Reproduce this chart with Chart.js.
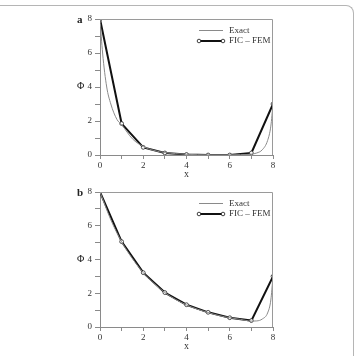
<!DOCTYPE html>
<html>
<head>
<meta charset="utf-8">
<script src="https://cdn.jsdelivr.net/npm/chart.js@4.4.1/dist/chart.umd.min.js"></script>
<style>
  html, body { margin: 0; padding: 0; background: #fff; }
  body { width: 356px; height: 356px; position: relative; overflow: hidden; font-family: "Liberation Serif", "DejaVu Serif", serif; }
  .frame { position: absolute; left: -10px; top: 5px; width: 363px; height: 380px; border-top: 1px solid #b5b5b5; border-right: 1px solid #b5b5b5; border-top-right-radius: 8px; }
  .wrap { position: absolute; left: 0; width: 356px; }
  .wrap canvas { display: block; }
  .lbl { position: absolute; font-family: "Liberation Serif", serif; color: #222; line-height: 1; }
  .panel { font-weight: bold; font-size: 11px; }
  .phi { font-size: 10px; }
</style>
</head>
<body>
<div class="frame"></div>
<div class="wrap" style="top:0;height:182px;"><canvas id="cA" width="356" height="182"></canvas></div>
<div class="wrap" style="top:176px;height:180px;"><canvas id="cB" width="356" height="180"></canvas></div>
<span class="lbl panel" style="left:77px;top:14px;">a</span>
<span class="lbl phi" style="left:77px;top:81px;">Φ</span>
<span class="lbl panel" style="left:77px;top:187px;">b</span>
<span class="lbl phi" style="left:77px;top:254px;">Φ</span>
<script>
// ---- data ----
const nodesX = [0, 1, 2, 3, 4, 5, 6, 7, 8];
const femA = [8, 1.85, 0.45, 0.12, 0.03, 0.0, 0.0, 0.12, 3.0];
const femB = [8, 5.06, 3.22, 2.04, 1.32, 0.87, 0.55, 0.38, 3.0];
const exactAx = [0, 0.12, 0.31, 0.5, 0.78, 1, 1.5, 2, 2.5, 3, 3.5, 4, 5, 6, 6.5, 7, 7.25, 7.5, 7.75, 7.9, 8];
const exactAy = [8, 6.0, 4.0, 3.0, 2.1, 1.78, 0.95, 0.5, 0.27, 0.14, 0.08, 0.04, 0.01, 0.01, 0.02, 0.05, 0.12, 0.3, 0.85, 1.7, 3.0];
const exactBx = [0, 0.5, 1, 1.5, 2, 2.5, 3, 3.5, 4, 4.5, 5, 5.5, 6, 6.5, 7, 7.25, 7.5, 7.75, 7.9, 8];
const exactBy = [8, 6.35, 5.05, 4.05, 3.22, 2.58, 2.04, 1.63, 1.31, 1.06, 0.86, 0.68, 0.55, 0.45, 0.35, 0.36, 0.47, 0.83, 1.6, 3.0];
const xTicks = [0, 2, 4, 6, 8];
const yTicks = [0, 2, 4, 6, 8];
const xTitle = 'x';
const labelExact = 'Exact';
const labelFem = 'FIC \u2013 FEM';

function pts(xs, ys) { return xs.map((x, i) => ({ x: x, y: ys[i] })); }

const frameAndLegend = {
  id: 'frameAndLegend',
  afterDatasetsDraw(chart) {
    const { ctx, chartArea: a } = chart;
    ctx.save();
    ctx.strokeStyle = '#9a9a9a';
    ctx.lineWidth = 1;
    ctx.beginPath();
    ctx.moveTo(a.left, a.top + 0.5);
    ctx.lineTo(a.right - 0.5, a.top + 0.5);
    ctx.lineTo(a.right - 0.5, a.bottom);
    ctx.stroke();
    // legend
    const x0 = 199, x1 = 223;
    const y0 = a.top + 11.5, y1 = a.top + 22;
    ctx.strokeStyle = '#8a8a8a';
    ctx.lineWidth = 1;
    ctx.beginPath(); ctx.moveTo(x0, y0); ctx.lineTo(x1, y0); ctx.stroke();
    ctx.strokeStyle = '#111';
    ctx.lineWidth = 2;
    ctx.beginPath(); ctx.moveTo(x0, y1); ctx.lineTo(x1, y1); ctx.stroke();
    ctx.lineWidth = 0.8;
    ctx.fillStyle = '#fff';
    [x0, x1].forEach(px => { ctx.beginPath(); ctx.arc(px, y1, 1.8, 0, Math.PI * 2); ctx.fill(); ctx.stroke(); });
    ctx.fillStyle = '#333';
    ctx.font = '9px "Liberation Serif", serif';
    ctx.textBaseline = 'middle';
    ctx.textAlign = 'left';
    ctx.fillText(chart.data.datasets[0].label, 229, y0);
    ctx.fillText(chart.data.datasets[1].label, 229, y1);
    // x axis title
    ctx.font = '10px "Liberation Serif", serif';
    ctx.textAlign = 'center';
    ctx.fillText(xTitle, (a.left + a.right) / 2, a.bottom + 19);
    ctx.restore();
  }
};

function makeChart(id, exX, exY, fem, padTop, padBottom) {
  return new Chart(document.getElementById(id), {
    type: 'line',
    data: {
      datasets: [
        { label: labelExact, data: pts(exX, exY), borderColor: '#8a8a8a', borderWidth: 1, pointRadius: 0, cubicInterpolationMode: 'monotone', fill: false },
        { label: labelFem, data: pts(nodesX, fem), borderColor: '#111', borderWidth: 2, pointRadius: 1.9, pointBackgroundColor: '#fff', pointBorderColor: '#222', pointBorderWidth: 0.8, tension: 0, fill: false }
      ]
    },
    options: {
      responsive: false,
      animation: false,
      events: [],
      layout: { padding: { left: 70, right: 83, top: padTop, bottom: padBottom } },
      plugins: { legend: { display: false }, tooltip: { enabled: false } },
      scales: {
        x: {
          type: 'linear', min: 0, max: 8,
          afterFit(s) { s.height = 24; },
          border: { color: '#8a8a8a', width: 1 },
          grid: { drawOnChartArea: false, tickLength: 4, color: '#8a8a8a' },
          ticks: { stepSize: 1, padding: 1, maxRotation: 0, autoSkip: false, color: '#333', font: { family: '"Liberation Serif", serif', size: 9 },
                   callback: v => xTicks.includes(v) ? String(v) : '' },
          title: { display: false }
        },
        y: {
          type: 'linear', min: 0, max: 8,
          afterFit(s) { s.width = 30; },
          border: { color: '#8a8a8a', width: 1 },
          grid: { drawOnChartArea: false, tickLength: 5, color: '#8a8a8a' },
          ticks: { stepSize: 1, padding: 3, autoSkip: false, color: '#333', font: { family: '"Liberation Serif", serif', size: 9 },
                   callback: v => yTicks.includes(v) ? String(v) : '' }
        }
      }
    },
    plugins: [frameAndLegend]
  });
}

makeChart('cA', exactAx, exactAy, femA, 19, 3);
makeChart('cB', exactBx, exactBy, femB, 16, 5);
</script>
</body>
</html>
